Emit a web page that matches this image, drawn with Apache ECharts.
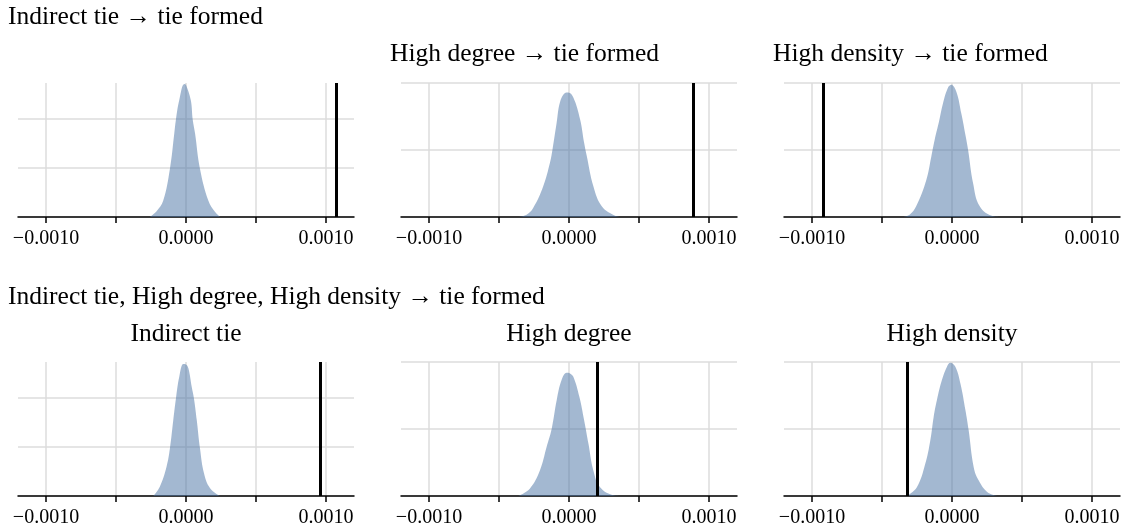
<!DOCTYPE html>
<html>
<head>
    <meta http-equiv="Content-Type" content="text/html; charset=UTF-8">
    <title>ECharts</title>
    <script src="https://cdn.jsdelivr.net/npm/echarts@6/dist/echarts.min.js"></script>
</head>
<body style="margin:0">
<div id="main" style="width: 1126px; height: 531px;"></div>

<script type="text/javascript">
    // panel titles
    var rowTitles = ['Indirect tie \u2192 tie formed', 'Indirect tie, High degree, High density \u2192 tie formed'];
    var panelTitles = ['', 'High degree \u2192 tie formed', 'High density \u2192 tie formed',
                       'Indirect tie', 'High degree', 'High density'];

    // observed values (black lines)
    var observed = [0.00107, 0.000884, -0.000922, 0.000962, 0.0002, -0.00032];

    // tick values / labels
    var tickValues = [-0.001, -0.0005, 0, 0.0005, 0.001];
    var labelValues = [-0.001, 0, 0.001];

    // density curves: x values and heights (in gridline units)
    var x1 = [-0.00026, -0.00021, -0.000163, -0.000115, -0.000084, -0.000072, -0.000048, -0.000012, 0, 0.000034, 0.000048, 0.000065, 0.0001, 0.00016, 0.000208, 0.000244];
    var y1 = [0, 0.12, 0.33, 0.98, 1.70, 1.99, 2.39, 2.72, 2.70, 2.39, 1.99, 1.70, 0.98, 0.33, 0.10, 0];

    var x2 = [-0.000363, -0.000303, -0.000256, -0.000184, -0.000136, -0.000117, -0.000088, -0.000065, -0.000029, -0.000005, 0.000031, 0.000079, 0.000108, 0.000127, 0.000174, 0.000234, 0.000318, 0.000366];
    var y2 = [0, 0.035, 0.135, 0.46, 0.81, 1.02, 1.41, 1.71, 1.85, 1.86, 1.785, 1.46, 1.11, 0.91, 0.46, 0.16, 0.03, 0];

    var x3 = [-0.000351, -0.000303, -0.000256, -0.000184, -0.000148, -0.000124, -0.000093, -0.000065, -0.000029, -0.000005, 0.000031, 0.000067, 0.000098, 0.000115, 0.000151, 0.000198, 0.000294, 0.000342];
    var y3 = [0, 0.035, 0.16, 0.55, 0.90, 1.15, 1.42, 1.69, 1.93, 1.975, 1.87, 1.54, 1.20, 1.00, 0.50, 0.16, 0.01, 0];

    var x4 = [-0.000234, -0.000187, -0.000139, -0.000115, -0.000091, -0.000072, -0.000048, -0.000019, 0, 0.000017, 0.000041, 0.000057, 0.000077, 0.0001, 0.000129, 0.000172, 0.000244];
    var y4 = [0, 0.19, 0.60, 0.97, 1.55, 1.99, 2.44, 2.70, 2.69, 2.61, 2.23, 1.99, 1.55, 0.97, 0.46, 0.16, 0];

    var x5 = [-0.000363, -0.00028, -0.000208, -0.00016, -0.000124, -0.000088, -0.000053, -0.000017, 0.000007, 0.000031, 0.000074, 0.000108, 0.000139, 0.000174, 0.000222, 0.000318, 0.000366];
    var y5 = [0, 0.11, 0.38, 0.73, 1.00, 1.43, 1.73, 1.84, 1.83, 1.78, 1.48, 1.13, 0.78, 0.38, 0.13, 0.01, 0];

    var x6 = [-0.000323, -0.000251, -0.000191, -0.000155, -0.000131, -0.000108, -0.000072, -0.000036, -0.000012, 0.000024, 0.00006, 0.000096, 0.000119, 0.000155, 0.000191, 0.000251, 0.000323];
    var y6 = [0, 0.13, 0.48, 0.83, 1.18, 1.43, 1.73, 1.93, 1.99, 1.93, 1.68, 1.28, 0.98, 0.43, 0.23, 0.06, 0];

    var xs = [x1, x2, x3, x4, x5, x6];
    var ys = [y1, y2, y3, y4, y5, y6];
    var yMax = [2.74, 2, 2, 2.74, 2, 2];

    var font = '"Liberation Serif", "Times New Roman", serif';
    var lefts = [18, 401, 784];
    var tops = [83, 362];
    var titleStyle = { fontFamily: font, fontSize: 25.5, fontWeight: 'normal', color: '#000' };

    var grids = [], xAxes = [], yAxes = [], series = [], titles = [];

    titles.push({ text: rowTitles[0], left: 8, top: 4, padding: 0, textStyle: titleStyle });
    titles.push({ text: rowTitles[1], left: 8, top: 284, padding: 0, textStyle: titleStyle });

    for (var i = 0; i < 6; i++) {
        var col = i % 3, row = Math.floor(i / 3);
        grids.push({ left: lefts[col], top: tops[row], width: 336, height: 134 });

        if (panelTitles[i]) {
            if (row === 0) {
                titles.push({ text: panelTitles[i], left: lefts[col] - 11, top: 41, padding: 0, textStyle: titleStyle });
            } else {
                titles.push({ text: panelTitles[i], left: lefts[col] + 168, top: 321, padding: 0,
                    textAlign: 'center', textStyle: titleStyle });
            }
        }

        xAxes.push({
            gridIndex: i, type: 'value', min: -0.0012, max: 0.0012,
            axisLine: { show: true, onZero: false, lineStyle: { color: '#000', width: 1.5 } },
            axisTick: { show: true, length: 6, lineStyle: { color: '#000', width: 1.5 }, customValues: tickValues },
            axisLabel: {
                customValues: labelValues, margin: 12,
                fontFamily: font, fontSize: 20, color: '#000',
                formatter: function (v) { return (v < 0 ? '\u2212' : '') + Math.abs(v).toFixed(4); }
            },
            splitLine: { show: true, lineStyle: { color: '#dcdcdc', width: 1.5 } }
        });

        yAxes.push({
            gridIndex: i, type: 'value', min: 0, max: yMax[i], interval: 1,
            axisLine: { show: false }, axisTick: { show: false }, axisLabel: { show: false },
            splitLine: { show: true, showMaxLine: yMax[i] === 2, lineStyle: { color: '#dcdcdc', width: 1.5 } }
        });

        var pts = [];
        for (var j = 0; j < xs[i].length; j++) pts.push([xs[i][j], ys[i][j]]);

        series.push({
            type: 'line', xAxisIndex: i, yAxisIndex: i, data: pts,
            smooth: 0.4, showSymbol: false, silent: true,
            lineStyle: { width: 0 },
            itemStyle: { color: '#4872a4' },
            areaStyle: { color: '#4872a4', opacity: 0.5 },
            markLine: {
                silent: true, symbol: 'none', label: { show: false },
                lineStyle: { color: '#000', width: 3, type: 'solid' },
                data: [[{ coord: [observed[i], 0] }, { coord: [observed[i], yMax[i]] }]]
            }
        });
    }

    var chart = echarts.init(document.getElementById('main'));
    chart.setOption({
        animation: false,
        title: titles,
        grid: grids,
        xAxis: xAxes,
        yAxis: yAxes,
        series: series
    });
</script>

</body>
</html>
